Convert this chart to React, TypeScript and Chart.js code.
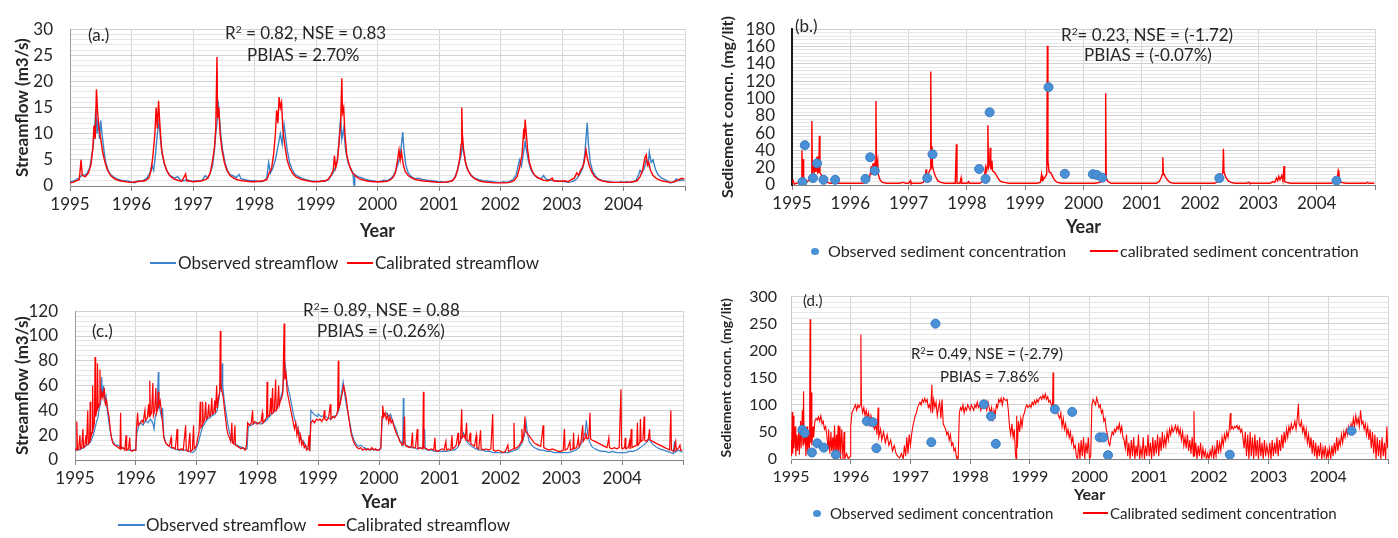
import React, { useEffect, useRef } from "react";
import { Chart, registerables } from "chart.js";
Chart.register(...registerables);

const FONT = "Lato, 'Noto Sans', sans-serif";
const TXT = "#262626";
const BLUE = "#3b82c8";
const DOT = "#4a90d6";
const RED = "#ff0000";

type Pt = [number, number];

// ---------- Panel (a) streamflow (calibration) ----------
const aObserved: Pt[] = [
  [1995.00,0.8],[1995.05,0.9],[1995.10,1.2],[1995.15,1.5],[1995.20,2.2],[1995.24,2.0],[1995.28,2.5],[1995.32,3.5],[1995.35,5.5],[1995.38,8],[1995.40,11],[1995.42,14.7],[1995.44,10],[1995.46,13],[1995.48,9],[1995.50,12.5],[1995.52,10],[1995.55,7],[1995.58,4.5],[1995.62,3],[1995.66,2.2],[1995.70,1.8],[1995.75,1.4],[1995.80,1.2],[1995.85,1.0],[1995.90,1.0],[1995.95,0.9],
  [1996.00,0.8],[1996.05,0.6],[1996.10,1.0],[1996.15,0.9],[1996.20,1.1],[1996.25,1.5],[1996.30,2.5],[1996.33,4],[1996.36,3],[1996.39,6],[1996.42,10],[1996.45,12.5],[1996.47,9],[1996.50,6],[1996.54,4],[1996.58,2.8],[1996.63,2],[1996.70,1.5],[1996.75,1.8],[1996.80,1.1],[1996.85,1.0],[1996.90,1.2],[1996.95,1.0],
  [1997.00,0.9],[1997.05,1.0],[1997.10,0.9],[1997.15,1.1],[1997.20,2.0],[1997.24,1.5],[1997.28,2.5],[1997.32,4],[1997.35,7],[1997.37,10],[1997.39,12],[1997.41,16.3],[1997.43,13],[1997.45,10],[1997.48,7],[1997.52,4.5],[1997.56,3],[1997.60,2.2],[1997.65,2.0],[1997.70,1.6],[1997.75,2.2],[1997.78,1.4],[1997.82,1.3],[1997.88,1.1],[1997.95,1.0],
  [1998.00,1.0],[1998.05,0.9],[1998.10,0.8],[1998.15,1.0],[1998.20,1.5],[1998.23,4.5],[1998.26,2.5],[1998.30,3.5],[1998.34,5],[1998.38,7.5],[1998.42,10],[1998.45,8],[1998.48,11.8],[1998.50,10],[1998.53,7],[1998.57,4.5],[1998.61,3.2],[1998.66,2.2],[1998.72,1.8],[1998.78,1.4],[1998.84,1.2],[1998.90,1.0],[1998.95,0.9],
  [1999.00,0.9],[1999.05,0.8],[1999.10,1.0],[1999.15,0.9],[1999.20,1.2],[1999.25,2.0],[1999.30,3],[1999.34,4.5],[1999.37,8],[1999.40,13],[1999.42,9],[1999.45,11],[1999.48,7],[1999.52,4.5],[1999.56,3.5],[1999.60,2.5],[1999.62,0],[1999.63,2.2],[1999.68,1.8],[1999.74,1.6],[1999.80,1.3],[1999.86,1.1],[1999.92,1.0],[1999.97,0.9],
  [2000.00,0.8],[2000.05,0.9],[2000.10,1.1],[2000.15,1.0],[2000.20,1.3],[2000.25,1.8],[2000.30,3],[2000.34,4.5],[2000.37,6],[2000.39,8],[2000.41,10.3],[2000.43,7],[2000.46,4],[2000.50,2.5],[2000.55,1.8],[2000.60,1.4],[2000.66,1.5],[2000.72,1.3],[2000.80,1.1],[2000.88,1.0],[2000.95,0.9],
  [2001.00,0.8],[2001.05,0.8],[2001.10,0.7],[2001.15,0.8],[2001.20,1.0],[2001.25,1.5],[2001.30,3],[2001.33,4.5],[2001.36,6],[2001.38,7.7],[2001.41,6],[2001.44,4],[2001.48,2.8],[2001.53,2],[2001.58,1.5],[2001.65,1.2],[2001.72,1.0],[2001.80,0.9],[2001.88,0.8],[2001.95,0.7],
  [2002.00,0.7],[2002.05,0.8],[2002.10,0.7],[2002.15,0.9],[2002.20,1.2],[2002.25,2],[2002.28,3.5],[2002.31,5],[2002.34,3.8],[2002.37,6],[2002.40,8.5],[2002.42,7],[2002.45,5],[2002.49,3.2],[2002.54,2.2],[2002.60,1.6],[2002.66,1.4],[2002.70,2.0],[2002.74,1.3],[2002.82,1.1],[2002.90,1.0],[2002.96,0.9],
  [2003.00,0.9],[2003.05,0.8],[2003.10,0.7],[2003.15,0.8],[2003.20,1.0],[2003.25,1.5],[2003.30,2.5],[2003.34,3.5],[2003.37,6],[2003.39,9],[2003.41,12.1],[2003.43,8],[2003.46,4.5],[2003.50,2.8],[2003.55,1.8],[2003.60,1.3],[2003.66,1.0],[2003.72,0.9],[2003.78,0.8],[2003.85,0.7],[2003.92,0.7],[2003.97,0.8],
  [2004.00,0.7],[2004.05,0.8],[2004.10,0.7],[2004.15,0.8],[2004.20,1.0],[2004.24,2.0],[2004.27,3],[2004.30,2.5],[2004.34,3.5],[2004.37,5],[2004.40,4],[2004.42,6.5],[2004.45,4.5],[2004.48,5],[2004.52,3.2],[2004.56,2.2],[2004.62,1.5],[2004.70,1.1],[2004.76,0.6],[2004.82,0.8],[2004.86,1.4],[2004.90,1.0],[2004.95,1.2],[2004.99,1.0],
];
const aCalibrated: Pt[] = [
  [1995.00,0.6],[1995.05,0.7],[1995.10,1.0],[1995.15,1.2],[1995.18,5.0],[1995.20,2.0],[1995.25,1.8],[1995.30,2.5],[1995.34,4],[1995.37,7],[1995.39,11.5],[1995.41,9],[1995.43,18.5],[1995.45,14],[1995.47,11],[1995.50,9],[1995.53,6.5],[1995.57,4.5],[1995.61,3],[1995.66,2],[1995.72,1.4],[1995.78,1.1],[1995.85,0.9],[1995.92,0.8],[1995.97,0.7],
  [1996.00,0.7],[1996.08,0.8],[1996.15,0.9],[1996.22,1.0],[1996.28,1.5],[1996.32,3],[1996.35,6],[1996.38,10],[1996.40,15],[1996.42,11],[1996.44,16.3],[1996.46,12],[1996.49,7],[1996.53,4.5],[1996.57,3],[1996.62,2],[1996.68,1.4],[1996.75,1.1],[1996.82,0.9],[1996.88,2.3],[1996.90,1.0],[1996.96,0.9],
  [1997.00,0.8],[1997.08,0.9],[1997.15,1.0],[1997.20,1.2],[1997.24,1.5],[1997.28,2.5],[1997.32,5],[1997.35,7.5],[1997.37,11],[1997.39,24.7],[1997.40,13],[1997.42,15],[1997.44,10],[1997.47,7],[1997.51,4.5],[1997.55,3],[1997.60,2],[1997.66,1.5],[1997.72,1.2],[1997.80,1.0],[1997.88,0.9],[1997.95,0.8],
  [1998.00,0.8],[1998.08,0.9],[1998.15,1.0],[1998.20,1.2],[1998.24,2.5],[1998.28,3.5],[1998.31,6],[1998.34,10],[1998.36,14.5],[1998.38,12],[1998.40,17],[1998.42,15],[1998.44,16],[1998.46,11],[1998.49,8],[1998.53,5],[1998.57,3.5],[1998.62,2.4],[1998.68,1.7],[1998.75,1.3],[1998.82,1.1],[1998.90,0.9],[1998.96,0.8],
  [1999.00,0.8],[1999.08,0.9],[1999.15,1.0],[1999.20,1.3],[1999.24,2],[1999.28,3],[1999.30,5.8],[1999.32,3.5],[1999.35,5],[1999.38,9],[1999.40,12],[1999.42,20.6],[1999.43,14],[1999.45,15],[1999.47,10],[1999.50,6],[1999.54,4],[1999.58,2.8],[1999.63,2],[1999.70,1.4],[1999.78,1.1],[1999.86,0.9],[1999.94,0.8],
  [2000.00,0.8],[2000.08,0.8],[2000.15,0.9],[2000.20,1.1],[2000.25,1.6],[2000.29,2.5],[2000.32,4.5],[2000.35,6.9],[2000.37,5],[2000.39,6.5],[2000.42,4],[2000.45,2.8],[2000.50,2],[2000.56,1.5],[2000.63,1.2],[2000.72,1.0],[2000.80,0.9],[2000.90,0.8],[2000.97,0.7],
  [2001.00,0.7],[2001.08,0.7],[2001.15,0.8],[2001.22,1.0],[2001.27,1.8],[2001.31,3.5],[2001.34,5.5],[2001.36,8],[2001.37,15],[2001.38,10],[2001.40,7],[2001.43,4.5],[2001.47,3],[2001.52,2],[2001.58,1.4],[2001.65,1.0],[2001.72,0.8],[2001.80,0.7],[2001.90,0.6],[2001.97,0.6],
  [2002.00,0.6],[2002.08,0.6],[2002.15,0.7],[2002.22,1.0],[2002.27,1.8],[2002.31,3.5],[2002.35,6],[2002.38,11],[2002.39,9],[2002.40,12.7],[2002.42,10],[2002.44,7],[2002.47,4.5],[2002.51,3],[2002.56,2],[2002.62,1.5],[2002.70,1.1],[2002.78,1.0],[2002.84,1.5],[2002.86,1.0],[2002.93,0.9],
  [2003.00,0.9],[2003.05,1.0],[2003.10,0.8],[2003.15,1.2],[2003.20,1.5],[2003.24,2.5],[2003.27,2],[2003.30,3],[2003.33,3.5],[2003.36,4.5],[2003.39,6.9],[2003.41,5.5],[2003.44,4],[2003.48,2.8],[2003.53,1.8],[2003.58,1.3],[2003.65,1.0],[2003.72,0.8],[2003.80,0.7],[2003.90,0.7],[2003.97,0.7],
  [2004.00,0.7],[2004.08,0.7],[2004.15,0.8],[2004.22,1.0],[2004.27,1.8],[2004.31,3],[2004.35,5.5],[2004.37,6.0],[2004.39,4],[2004.41,4.5],[2004.44,3],[2004.48,2],[2004.54,1.4],[2004.62,1.0],[2004.70,0.8],[2004.78,0.7],[2004.85,0.9],[2004.90,1.2],[2004.95,1.5],[2004.99,1.3],
];

// ---------- Panel (b) sediment (calibration) ----------
const bObserved: Pt[] = [
  [1995.18,3.5],[1995.22,46],[1995.36,8],[1995.43,25],[1995.54,6],[1995.74,6],[1996.26,7],[1996.34,32],[1996.42,16.5],
  [1997.32,8],[1997.41,35.5],[1998.21,18.5],[1998.32,7],[1998.39,84],[1999.40,113],[1999.68,13],
  [2000.16,12.5],[2000.23,11.5],[2000.32,8.5],[2002.33,8],[2004.34,5],
];
const bCalibrated: Pt[] = [
  [1995.00,2],[1995.02,5],[1995.04,1],[1995.08,2],[1995.12,3],[1995.16,4],[1995.17,40],[1995.18,8],[1995.19,30],[1995.20,4],[1995.24,3],[1995.28,5],[1995.31,8],[1995.33,12],[1995.34,74],[1995.35,15],[1995.37,20],[1995.38,14],[1995.40,25],[1995.41,15],[1995.43,33],[1995.44,14],[1995.46,15],[1995.47,57],[1995.48,14],[1995.50,12],[1995.53,8],[1995.56,5],[1995.60,3],[1995.66,2],[1995.75,2],[1995.85,2],[1995.95,2],
  [1996.00,2],[1996.10,2],[1996.20,2],[1996.28,3],[1996.32,6],[1996.35,15],[1996.36,22],[1996.37,12],[1996.39,25],[1996.40,15],[1996.42,24],[1996.43,16],[1996.44,97],[1996.45,20],[1996.47,28],[1996.48,12],[1996.51,6],[1996.55,3],[1996.62,2],[1996.75,2],[1996.85,2],[1996.90,3],[1996.95,2],
  [1997.00,2],[1997.03,5],[1997.04,2],[1997.10,2],[1997.20,2],[1997.25,3],[1997.28,6],[1997.30,18],[1997.31,10],[1997.33,12],[1997.35,15],[1997.37,18],[1997.38,131],[1997.39,20],[1997.40,45],[1997.41,22],[1997.43,16],[1997.46,10],[1997.50,5],[1997.55,3],[1997.62,2],[1997.72,2],[1997.80,2],[1997.82,47],[1997.83,2],[1997.88,2],[1997.90,8],[1997.91,2],[1997.96,2],
  [1998.00,2],[1998.03,4],[1998.04,2],[1998.12,2],[1998.22,2],[1998.27,4],[1998.30,10],[1998.32,20],[1998.33,15],[1998.35,22],[1998.36,69],[1998.37,20],[1998.39,25],[1998.40,43],[1998.41,18],[1998.43,28],[1998.44,16],[1998.47,15],[1998.50,12],[1998.54,7],[1998.58,4],[1998.64,3],[1998.72,2],[1998.85,2],[1998.95,2],
  [1999.00,2],[1999.10,2],[1999.20,2],[1999.26,3],[1999.28,12],[1999.29,5],[1999.30,11],[1999.31,6],[1999.33,8],[1999.35,10],[1999.37,13],[1999.38,161],[1999.39,28],[1999.41,15],[1999.44,14],[1999.47,10],[1999.50,6],[1999.55,3],[1999.62,2],[1999.75,2],[1999.90,2],
  [2000.00,2],[2000.10,2],[2000.20,2],[2000.28,3],[2000.32,5],[2000.35,8],[2000.37,6],[2000.38,106],[2000.39,8],[2000.42,4],[2000.47,2],[2000.60,2],[2000.80,2],[2000.95,2],
  [2001.00,2],[2001.15,2],[2001.25,2],[2001.30,4],[2001.33,8],[2001.35,12],[2001.36,32],[2001.37,14],[2001.40,10],[2001.44,6],[2001.48,3],[2001.55,2],[2001.75,2],[2001.95,2],
  [2002.00,2],[2002.15,2],[2002.25,2],[2002.30,4],[2002.34,8],[2002.37,12],[2002.39,14],[2002.40,42],[2002.41,15],[2002.44,9],[2002.48,5],[2002.53,3],[2002.60,2],[2002.80,2],[2002.84,3],[2002.85,2],
  [2003.00,2],[2003.10,2],[2003.20,2],[2003.25,4],[2003.28,3],[2003.31,8],[2003.33,5],[2003.35,10],[2003.37,6],[2003.40,11],[2003.42,5],[2003.44,22],[2003.45,4],[2003.48,3],[2003.55,2],[2003.75,2],[2003.95,2],
  [2004.00,2],[2004.15,2],[2004.25,2],[2004.30,4],[2004.33,8],[2004.35,6],[2004.37,17],[2004.38,15],[2004.39,6],[2004.42,3],[2004.50,2],[2004.70,2],[2004.85,2],[2004.87,3],[2004.90,2],[2004.99,2],
];

// ---------- Panel (c) streamflow (validation) ----------
const cObserved: Pt[] = [
  [1995.00,8],[1995.05,8],[1995.10,9],[1995.15,10],[1995.20,12],[1995.25,14],[1995.30,20],[1995.35,30],[1995.38,35],[1995.40,42],[1995.42,45],[1995.44,67],[1995.45,50],[1995.47,60],[1995.49,48],[1995.51,52],[1995.53,40],[1995.56,30],[1995.59,20],[1995.62,15],[1995.66,12],[1995.70,12],[1995.74,11],[1995.78,10],[1995.82,9],[1995.88,8],[1995.94,8],[1995.99,8],
  [1996.00,10],[1996.02,22],[1996.05,28],[1996.08,30],[1996.12,28],[1996.16,32],[1996.20,30],[1996.24,33],[1996.28,30],[1996.30,25],[1996.32,35],[1996.35,40],[1996.37,71],[1996.38,45],[1996.40,40],[1996.42,35],[1996.44,42],[1996.46,20],[1996.49,14],[1996.53,12],[1996.58,10],[1996.64,9],[1996.70,8],[1996.76,8],[1996.82,8],[1996.88,7],[1996.94,6],[1996.98,8],
  [1997.00,10],[1997.03,14],[1997.06,20],[1997.10,27],[1997.14,30],[1997.18,33],[1997.22,34],[1997.26,36],[1997.30,37],[1997.34,40],[1997.37,50],[1997.39,62],[1997.41,55],[1997.42,78],[1997.43,60],[1997.45,50],[1997.48,40],[1997.51,30],[1997.54,22],[1997.58,16],[1997.62,13],[1997.66,12],[1997.70,11],[1997.75,10],[1997.80,9],[1997.83,9],[1997.85,27],[1997.90,28],[1997.95,30],[1997.99,29],
  [1998.00,30],[1998.05,29],[1998.10,30],[1998.15,32],[1998.20,35],[1998.25,38],[1998.30,40],[1998.35,45],[1998.38,50],[1998.41,55],[1998.43,65],[1998.45,80],[1998.47,70],[1998.49,62],[1998.52,55],[1998.55,48],[1998.58,40],[1998.61,33],[1998.64,28],[1998.67,25],[1998.70,20],[1998.73,16],[1998.76,15],[1998.79,12],[1998.82,10],[1998.84,9],[1998.86,8],[1998.88,40],[1998.91,38],[1998.95,36],[1998.99,35],
  [1999.00,37],[1999.05,35],[1999.10,36],[1999.15,34],[1999.20,33],[1999.25,35],[1999.30,36],[1999.34,40],[1999.37,50],[1999.40,60],[1999.41,63],[1999.43,55],[1999.46,45],[1999.49,38],[1999.52,30],[1999.55,22],[1999.58,17],[1999.62,13],[1999.66,11],[1999.70,12],[1999.75,10],[1999.80,9],[1999.85,8],[1999.90,9],[1999.95,8],[1999.99,8],
  [2000.00,8],[2000.03,9],[2000.05,30],[2000.07,38],[2000.10,36],[2000.13,38],[2000.16,35],[2000.19,37],[2000.22,32],[2000.25,28],[2000.28,25],[2000.31,20],[2000.34,16],[2000.37,14],[2000.39,12],[2000.40,50],[2000.41,15],[2000.44,12],[2000.48,11],[2000.53,10],[2000.58,10],[2000.63,9],[2000.68,10],[2000.72,9],[2000.75,25],[2000.76,9],[2000.80,8],[2000.86,8],[2000.92,7],[2000.97,7],
  [2001.00,7],[2001.06,7],[2001.12,7],[2001.18,8],[2001.24,8],[2001.29,10],[2001.33,14],[2001.37,20],[2001.39,22],[2001.42,18],[2001.46,14],[2001.50,12],[2001.55,10],[2001.60,9],[2001.65,8],[2001.70,8],[2001.76,7],[2001.82,7],[2001.88,6],[2001.94,6],[2001.99,6],
  [2002.00,6],[2002.06,6],[2002.12,6],[2002.18,7],[2002.24,8],[2002.29,9],[2002.33,12],[2002.37,16],[2002.40,22],[2002.42,30],[2002.44,22],[2002.47,15],[2002.51,12],[2002.55,10],[2002.60,9],[2002.65,8],[2002.70,8],[2002.76,7],[2002.82,7],[2002.88,6],[2002.94,6],[2002.99,6],
  [2003.00,6],[2003.06,6],[2003.12,6],[2003.18,7],[2003.24,8],[2003.29,10],[2003.33,14],[2003.36,18],[2003.39,22],[2003.41,32],[2003.43,22],[2003.46,15],[2003.50,11],[2003.55,9],[2003.60,8],[2003.66,7],[2003.72,7],[2003.78,6],[2003.84,7],[2003.90,6],[2003.96,6],
  [2004.00,6],[2004.06,6],[2004.12,7],[2004.18,7],[2004.24,8],[2004.30,10],[2004.35,12],[2004.40,14],[2004.43,16],[2004.45,17],[2004.48,14],[2004.52,12],[2004.57,10],[2004.62,9],[2004.68,8],[2004.74,7],[2004.80,6],[2004.84,5],[2004.86,15],[2004.87,6],[2004.92,8],[2004.96,7],[2004.99,6],
];
const cCalibrated: Pt[] = [
  [1995.00,8],[1995.02,9],[1995.03,31],[1995.04,8],[1995.06,9],[1995.08,20],[1995.09,9],[1995.11,10],[1995.13,25],[1995.14,10],[1995.16,11],[1995.18,20],[1995.19,12],[1995.21,40],[1995.22,13],[1995.24,15],[1995.25,47],[1995.26,18],[1995.28,22],[1995.29,60],[1995.30,25],[1995.32,30],[1995.33,83],[1995.34,35],[1995.36,40],[1995.37,78],[1995.38,42],[1995.40,45],[1995.41,73],[1995.42,48],[1995.44,55],[1995.46,50],[1995.48,58],[1995.50,45],[1995.52,48],[1995.54,40],[1995.56,35],[1995.58,25],[1995.60,18],[1995.62,14],[1995.65,12],[1995.68,11],[1995.71,10],[1995.74,9],[1995.75,38],[1995.76,9],[1995.79,10],[1995.82,8],[1995.84,20],[1995.85,8],[1995.88,9],[1995.90,18],[1995.91,8],[1995.94,7],[1995.97,8],
  [1996.00,8],[1996.01,25],[1996.03,38],[1996.04,28],[1996.07,30],[1996.10,32],[1996.12,30],[1996.15,40],[1996.16,32],[1996.19,34],[1996.21,45],[1996.22,35],[1996.23,64],[1996.24,36],[1996.26,38],[1996.28,62],[1996.29,36],[1996.31,40],[1996.33,58],[1996.34,38],[1996.36,42],[1996.37,55],[1996.38,44],[1996.40,48],[1996.42,40],[1996.44,30],[1996.46,18],[1996.49,14],[1996.52,12],[1996.55,11],[1996.58,18],[1996.59,10],[1996.62,10],[1996.65,9],[1996.68,25],[1996.69,9],[1996.72,8],[1996.75,9],[1996.78,8],[1996.82,28],[1996.83,8],[1996.86,7],[1996.89,22],[1996.90,7],[1996.93,8],[1996.95,28],[1996.96,9],[1996.98,10],
  [1997.00,12],[1997.02,18],[1997.04,22],[1997.06,47],[1997.07,26],[1997.09,28],[1997.10,47],[1997.11,30],[1997.13,32],[1997.15,47],[1997.16,33],[1997.18,34],[1997.20,45],[1997.21,35],[1997.23,36],[1997.25,50],[1997.26,37],[1997.28,38],[1997.30,48],[1997.31,38],[1997.33,60],[1997.34,42],[1997.36,50],[1997.38,55],[1997.39,104],[1997.40,60],[1997.42,55],[1997.44,50],[1997.46,40],[1997.48,32],[1997.50,24],[1997.52,20],[1997.54,18],[1997.56,15],[1997.58,30],[1997.59,14],[1997.61,13],[1997.63,28],[1997.64,12],[1997.67,11],[1997.70,10],[1997.73,9],[1997.76,10],[1997.78,9],[1997.80,8],[1997.82,12],[1997.84,30],[1997.87,28],[1997.90,30],[1997.92,40],[1997.93,29],[1997.96,31],[1997.99,30],
  [1998.00,29],[1998.03,30],[1998.06,31],[1998.08,38],[1998.09,30],[1998.12,32],[1998.15,34],[1998.16,63],[1998.17,35],[1998.20,36],[1998.22,50],[1998.23,37],[1998.25,58],[1998.26,38],[1998.28,40],[1998.30,65],[1998.31,40],[1998.33,42],[1998.35,60],[1998.36,44],[1998.38,48],[1998.40,50],[1998.42,55],[1998.43,87],[1998.44,110],[1998.45,65],[1998.47,70],[1998.49,55],[1998.51,50],[1998.53,45],[1998.55,40],[1998.57,35],[1998.59,30],[1998.61,25],[1998.63,30],[1998.65,20],[1998.67,25],[1998.69,15],[1998.71,20],[1998.73,12],[1998.75,15],[1998.77,10],[1998.79,12],[1998.81,8],[1998.83,9],[1998.85,20],[1998.86,7],[1998.88,30],[1998.91,32],[1998.94,30],[1998.97,33],
  [1999.00,32],[1999.03,33],[1999.06,31],[1999.09,34],[1999.10,40],[1999.11,33],[1999.14,32],[1999.17,34],[1999.20,45],[1999.21,33],[1999.24,35],[1999.27,34],[1999.30,36],[1999.32,40],[1999.33,80],[1999.34,42],[1999.36,45],[1999.38,50],[1999.40,55],[1999.42,60],[1999.44,55],[1999.46,50],[1999.48,42],[1999.50,35],[1999.52,28],[1999.54,22],[1999.56,18],[1999.58,15],[1999.61,12],[1999.64,10],[1999.67,9],[1999.70,10],[1999.73,8],[1999.76,9],[1999.79,8],[1999.82,9],[1999.85,8],[1999.88,10],[1999.91,8],[1999.94,9],[1999.97,8],
  [2000.00,8],[2000.03,10],[2000.05,35],[2000.06,44],[2000.08,35],[2000.10,38],[2000.12,33],[2000.14,36],[2000.16,30],[2000.18,35],[2000.20,30],[2000.22,32],[2000.24,28],[2000.26,25],[2000.28,22],[2000.30,20],[2000.32,18],[2000.34,15],[2000.36,14],[2000.38,12],[2000.40,13],[2000.42,35],[2000.43,12],[2000.46,11],[2000.50,10],[2000.53,11],[2000.55,22],[2000.56,10],[2000.60,10],[2000.63,25],[2000.64,9],[2000.68,10],[2000.72,9],[2000.73,55],[2000.74,10],[2000.78,9],[2000.82,8],[2000.86,9],[2000.90,8],[2000.92,18],[2000.93,8],[2000.96,7],
  [2001.00,8],[2001.04,9],[2001.07,8],[2001.10,15],[2001.11,8],[2001.14,9],[2001.18,8],[2001.20,20],[2001.21,9],[2001.24,10],[2001.27,12],[2001.30,22],[2001.31,12],[2001.34,15],[2001.36,41],[2001.37,18],[2001.40,20],[2001.42,17],[2001.44,30],[2001.45,16],[2001.48,15],[2001.50,22],[2001.51,13],[2001.54,12],[2001.57,11],[2001.60,20],[2001.61,10],[2001.64,9],[2001.67,24],[2001.68,9],[2001.72,8],[2001.76,9],[2001.80,8],[2001.84,9],[2001.87,37],[2001.88,8],[2001.92,7],[2001.96,8],
  [2002.00,7],[2002.04,6],[2002.08,7],[2002.12,12],[2002.13,7],[2002.17,8],[2002.21,9],[2002.22,30],[2002.23,9],[2002.27,10],[2002.31,12],[2002.34,15],[2002.35,25],[2002.36,16],[2002.38,20],[2002.40,35],[2002.41,24],[2002.43,22],[2002.46,20],[2002.49,18],[2002.52,16],[2002.55,14],[2002.58,13],[2002.62,12],[2002.66,11],[2002.70,28],[2002.71,10],[2002.75,9],[2002.80,8],[2002.85,9],[2002.90,8],[2002.95,7],
  [2003.00,7],[2003.03,8],[2003.05,25],[2003.06,8],[2003.10,9],[2003.14,15],[2003.15,8],[2003.19,9],[2003.20,22],[2003.21,9],[2003.25,10],[2003.28,18],[2003.29,11],[2003.32,14],[2003.35,28],[2003.36,15],[2003.39,18],[2003.40,22],[2003.42,17],[2003.45,18],[2003.47,38],[2003.48,17],[2003.51,16],[2003.55,15],[2003.59,14],[2003.63,13],[2003.67,12],[2003.71,11],[2003.75,10],[2003.78,18],[2003.79,10],[2003.83,9],[2003.87,10],[2003.91,9],[2003.95,10],[2003.98,57],[2003.99,10],
  [2004.00,9],[2004.04,10],[2004.05,18],[2004.06,9],[2004.10,10],[2004.12,15],[2004.13,9],[2004.15,25],[2004.16,10],[2004.20,11],[2004.24,12],[2004.25,30],[2004.26,12],[2004.29,14],[2004.30,33],[2004.31,15],[2004.34,16],[2004.36,35],[2004.37,16],[2004.40,15],[2004.43,17],[2004.45,25],[2004.46,16],[2004.50,15],[2004.54,14],[2004.58,13],[2004.62,12],[2004.66,11],[2004.70,10],[2004.74,9],[2004.78,8],[2004.80,40],[2004.81,8],[2004.85,7],[2004.88,15],[2004.89,8],[2004.93,10],[2004.95,12],[2004.96,8],[2004.99,8],
];

// ---------- Panel (d) sediment (validation) ----------
const dObserved: Pt[] = [
  [1995.19,54],[1995.23,48],[1995.35,12],[1995.44,29],[1995.55,21],[1995.75,8],[1996.27,70],[1996.37,68],[1996.43,20],
  [1997.35,31],[1997.42,250],[1998.23,101],[1998.35,79],[1998.43,28],[1999.42,92],[1999.71,87],
  [2000.17,40],[2000.23,40],[2000.31,7],[2002.35,8],[2004.39,52],
];
const dCalibrated: Pt[] = [
  [1995.00,35],[1995.01,5],[1995.02,87],[1995.03,10],[1995.04,80],[1995.05,20],[1995.07,60],[1995.08,5],[1995.10,45],[1995.11,15],[1995.13,50],[1995.14,8],[1995.16,70],[1995.17,20],[1995.19,90],[1995.20,25],[1995.21,125],[1995.22,30],[1995.24,40],[1995.25,5],[1995.27,60],[1995.28,10],[1995.30,45],[1995.31,20],[1995.32,258],[1995.33,30],[1995.34,123],[1995.35,25],[1995.37,60],[1995.38,40],[1995.40,70],[1995.42,75],[1995.44,72],[1995.46,78],[1995.48,70],[1995.50,80],[1995.52,65],[1995.54,70],[1995.56,55],[1995.58,60],[1995.60,45],[1995.62,20],[1995.63,55],[1995.65,10],[1995.67,50],[1995.68,15],[1995.70,40],[1995.71,5],[1995.73,62],[1995.74,10],[1995.76,45],[1995.77,0],[1995.79,62],[1995.80,5],[1995.82,60],[1995.83,0],[1995.85,55],[1995.87,0],[1995.89,50],[1995.90,0],[1995.93,10],[1995.96,0],[1995.99,5],
  [1996.00,60],[1996.02,85],[1996.04,90],[1996.06,95],[1996.08,100],[1996.10,90],[1996.12,100],[1996.14,95],[1996.16,100],[1996.17,230],[1996.18,100],[1996.20,85],[1996.22,95],[1996.24,80],[1996.26,90],[1996.28,75],[1996.30,85],[1996.32,65],[1996.34,80],[1996.36,70],[1996.38,60],[1996.40,55],[1996.42,65],[1996.44,45],[1996.46,95],[1996.47,40],[1996.50,55],[1996.52,35],[1996.55,50],[1996.58,30],[1996.61,45],[1996.64,25],[1996.67,35],[1996.70,15],[1996.73,25],[1996.76,10],[1996.79,5],[1996.82,2],[1996.85,10],[1996.88,0],[1996.90,25],[1996.92,5],[1996.94,40],[1996.96,10],[1996.98,45],
  [1997.00,25],[1997.02,45],[1997.04,60],[1997.06,70],[1997.08,80],[1997.10,85],[1997.12,95],[1997.14,100],[1997.16,105],[1997.18,100],[1997.20,110],[1997.22,105],[1997.24,112],[1997.26,105],[1997.28,110],[1997.30,95],[1997.32,100],[1997.34,90],[1997.36,137],[1997.37,85],[1997.39,110],[1997.41,95],[1997.43,105],[1997.45,80],[1997.47,95],[1997.49,105],[1997.51,75],[1997.53,110],[1997.55,65],[1997.57,60],[1997.59,55],[1997.61,45],[1997.63,50],[1997.65,35],[1997.67,45],[1997.69,25],[1997.71,30],[1997.73,15],[1997.75,20],[1997.77,5],[1997.78,0],[1997.80,0],[1997.82,85],[1997.84,95],[1997.86,90],[1997.88,100],[1997.90,85],[1997.92,95],[1997.94,90],[1997.96,100],[1997.98,95],
  [1998.00,90],[1998.02,100],[1998.04,95],[1998.06,90],[1998.08,100],[1998.10,95],[1998.12,105],[1998.14,95],[1998.16,100],[1998.18,90],[1998.20,100],[1998.22,105],[1998.24,95],[1998.26,100],[1998.28,90],[1998.30,105],[1998.32,95],[1998.34,85],[1998.36,95],[1998.38,70],[1998.40,90],[1998.42,80],[1998.44,100],[1998.46,95],[1998.48,110],[1998.50,105],[1998.52,112],[1998.54,100],[1998.56,113],[1998.58,110],[1998.60,108],[1998.62,110],[1998.64,90],[1998.66,60],[1998.68,45],[1998.70,65],[1998.72,40],[1998.74,55],[1998.76,10],[1998.77,0],[1998.78,80],[1998.79,20],[1998.81,70],[1998.83,50],[1998.85,75],[1998.87,60],[1998.89,80],[1998.91,85],[1998.93,95],[1998.95,100],[1998.97,95],
  [1999.00,100],[1999.02,95],[1999.04,105],[1999.06,100],[1999.08,108],[1999.10,102],[1999.12,110],[1999.14,105],[1999.16,112],[1999.18,115],[1999.20,110],[1999.22,118],[1999.24,112],[1999.26,120],[1999.28,110],[1999.30,115],[1999.32,105],[1999.34,108],[1999.36,100],[1999.38,95],[1999.39,160],[1999.40,90],[1999.42,95],[1999.44,85],[1999.46,90],[1999.48,80],[1999.50,75],[1999.52,85],[1999.54,60],[1999.56,75],[1999.58,55],[1999.60,65],[1999.62,45],[1999.64,55],[1999.66,40],[1999.68,50],[1999.70,30],[1999.72,40],[1999.74,20],[1999.76,25],[1999.78,5],[1999.80,0],[1999.82,30],[1999.84,0],[1999.86,35],[1999.88,5],[1999.90,40],[1999.92,0],[1999.94,30],[1999.96,10],[1999.98,40],
  [2000.00,0],[2000.02,5],[2000.04,100],[2000.06,110],[2000.08,105],[2000.10,100],[2000.12,113],[2000.14,105],[2000.16,95],[2000.18,100],[2000.20,85],[2000.22,90],[2000.24,70],[2000.26,75],[2000.28,55],[2000.30,45],[2000.32,30],[2000.34,25],[2000.36,40],[2000.38,50],[2000.40,45],[2000.42,55],[2000.44,50],[2000.46,60],[2000.48,55],[2000.50,65],[2000.52,50],[2000.54,60],[2000.56,40],[2000.58,35],[2000.60,20],[2000.62,45],[2000.64,5],[2000.66,30],[2000.68,0],[2000.70,35],[2000.72,5],[2000.74,40],[2000.76,0],[2000.78,25],[2000.80,5],[2000.82,45],[2000.84,0],[2000.86,20],[2000.88,5],[2000.90,40],[2000.92,0],[2000.94,25],[2000.96,5],[2000.98,45],
  [2001.00,5],[2001.02,30],[2001.04,0],[2001.06,40],[2001.08,5],[2001.10,35],[2001.12,10],[2001.14,45],[2001.16,5],[2001.18,40],[2001.20,15],[2001.22,50],[2001.24,20],[2001.26,40],[2001.28,25],[2001.30,50],[2001.32,35],[2001.34,55],[2001.36,45],[2001.38,60],[2001.40,50],[2001.42,55],[2001.44,62],[2001.46,50],[2001.48,60],[2001.50,45],[2001.52,55],[2001.54,35],[2001.56,50],[2001.58,25],[2001.60,40],[2001.62,20],[2001.64,45],[2001.66,15],[2001.68,35],[2001.70,10],[2001.72,40],[2001.74,5],[2001.75,88],[2001.76,5],[2001.78,30],[2001.80,0],[2001.82,25],[2001.84,5],[2001.86,30],[2001.88,0],[2001.90,20],[2001.92,5],[2001.94,15],[2001.96,0],[2001.98,10],
  [2002.00,0],[2002.02,15],[2002.04,5],[2002.06,25],[2002.08,0],[2002.10,20],[2002.12,5],[2002.14,35],[2002.16,10],[2002.18,30],[2002.20,15],[2002.22,40],[2002.24,25],[2002.26,45],[2002.28,35],[2002.30,50],[2002.32,40],[2002.34,55],[2002.36,85],[2002.37,55],[2002.39,60],[2002.41,55],[2002.43,60],[2002.45,58],[2002.47,62],[2002.49,55],[2002.51,60],[2002.53,50],[2002.55,55],[2002.57,40],[2002.59,20],[2002.61,50],[2002.63,5],[2002.65,45],[2002.67,0],[2002.69,50],[2002.71,5],[2002.73,40],[2002.75,0],[2002.77,45],[2002.79,5],[2002.81,35],[2002.83,0],[2002.85,40],[2002.87,5],[2002.89,30],[2002.91,0],[2002.93,35],[2002.95,5],[2002.97,25],
  [2003.00,5],[2003.02,30],[2003.04,0],[2003.06,35],[2003.08,5],[2003.10,30],[2003.12,10],[2003.14,40],[2003.16,5],[2003.18,35],[2003.20,15],[2003.22,45],[2003.24,20],[2003.26,50],[2003.28,30],[2003.30,55],[2003.32,40],[2003.34,60],[2003.36,50],[2003.38,65],[2003.40,55],[2003.42,60],[2003.44,70],[2003.46,55],[2003.48,75],[2003.50,102],[2003.51,65],[2003.53,60],[2003.55,70],[2003.57,50],[2003.59,60],[2003.61,40],[2003.63,55],[2003.65,30],[2003.67,45],[2003.69,20],[2003.71,40],[2003.73,10],[2003.75,35],[2003.77,5],[2003.79,30],[2003.81,0],[2003.83,25],[2003.85,5],[2003.87,30],[2003.89,0],[2003.91,20],[2003.93,5],[2003.95,25],[2003.97,0],[2003.99,15],
  [2004.00,5],[2004.02,20],[2004.04,0],[2004.06,25],[2004.08,5],[2004.10,30],[2004.12,10],[2004.14,40],[2004.16,15],[2004.18,35],[2004.20,25],[2004.22,45],[2004.24,30],[2004.26,50],[2004.28,40],[2004.30,55],[2004.32,45],[2004.34,60],[2004.36,50],[2004.38,65],[2004.40,55],[2004.42,75],[2004.44,60],[2004.46,80],[2004.48,65],[2004.50,75],[2004.52,60],[2004.54,90],[2004.56,65],[2004.58,70],[2004.60,55],[2004.62,65],[2004.64,45],[2004.66,60],[2004.68,35],[2004.70,55],[2004.72,20],[2004.74,50],[2004.76,10],[2004.78,45],[2004.80,0],[2004.82,40],[2004.84,5],[2004.86,35],[2004.88,0],[2004.90,40],[2004.92,5],[2004.94,30],[2004.96,0],[2004.98,60],[2004.995,20],
];

const toXY = (a: Pt[]) => a.map(([x, y]) => ({ x, y }));

interface PanelDef {
  left: number; top: number; width: number; height: number;
  yW: number; xH: number; padTop: number; padRight: number;
  yMax: number; yStep: number; yMajor: number;
  yTitle: string; yTitleSize: number; yTickSize: number; yPad: number;
  xTickSize: number; xTitleSize: number;
  yBorder: string; yBorderW: number; xBorder: string;
  datasets: any[];
}

function makeConfig(p: PanelDef): any {
  return {
    type: "line",
    data: { datasets: p.datasets },
    options: {
      responsive: false,
      animation: false,
      events: [],
      layout: { padding: { top: p.padTop, right: p.padRight, left: 0, bottom: 0 } },
      plugins: { legend: { display: false }, tooltip: { enabled: false } },
      elements: { line: { tension: 0 }, point: { radius: 0 } },
      scales: {
        x: {
          type: "linear",
          min: 1995,
          max: 2005,
          afterFit: (s: any) => { s.height = p.xH; },
          ticks: {
            stepSize: 1,
            autoSkip: false,
            maxRotation: 0,
            padding: 3,
            color: TXT,
            font: { family: FONT, size: p.xTickSize },
            callback: (v: any) => (Number(v) >= 2005 ? "" : String(v)),
          },
          grid: { color: "#d6d6d6", tickColor: "#7f7f7f", tickLength: 5, lineWidth: 1 },
          border: { display: true, color: p.xBorder, width: 1 },
          title: {
            display: true,
            text: "Year",
            color: TXT,
            font: { family: FONT, size: p.xTitleSize, weight: "bold" },
            padding: { top: 4, bottom: 4 },
          },
        },
        y: {
          type: "linear",
          min: 0,
          max: p.yMax,
          afterFit: (s: any) => { s.width = p.yW; },
          ticks: {
            stepSize: p.yStep,
            autoSkip: false,
            padding: p.yPad,
            color: TXT,
            font: { family: FONT, size: p.yTickSize },
            callback: (v: any) => (Math.round(Number(v)) % p.yMajor === 0 ? String(Math.round(Number(v))) : ""),
          },
          grid: {
            drawTicks: false,
            lineWidth: 1,
            color: (ctx: any) =>
              ctx.tick && Math.round(ctx.tick.value) % p.yMajor === 0 ? "#d0d0d0" : "#e6e6e6",
          },
          border: { display: true, color: p.yBorder, width: p.yBorderW },
          title: {
            display: true,
            text: p.yTitle,
            color: TXT,
            font: { family: FONT, size: p.yTitleSize, weight: "bold" },
            padding: { top: 4, bottom: 4 },
          },
        },
      },
    },
  };
}

const lineDs = (label: string, data: Pt[], color: string, width: number, order: number) => ({
  type: "line",
  label,
  data: toXY(data),
  borderColor: color,
  backgroundColor: color,
  borderWidth: width,
  pointRadius: 0,
  fill: false,
  order,
});
const dotDs = (label: string, data: Pt[], order: number) => ({
  type: "scatter",
  label,
  data: toXY(data),
  backgroundColor: DOT,
  borderColor: "#3b7cc0",
  borderWidth: 1,
  pointRadius: 4.5,
  showLine: false,
  order,
});

const panels: PanelDef[] = [
  {
    left: 8, top: 2, width: 689, height: 244, yW: 62, xH: 60, padTop: 12, padRight: 12,
    yMax: 30, yStep: 1, yMajor: 5, yTitle: "Streamflow (m3/s)", yTitleSize: 17, yTickSize: 17, yPad: 17,
    xTickSize: 17, xTitleSize: 18, yBorder: "#9a9a9a", yBorderW: 1, xBorder: "#7f7f7f",
    datasets: [lineDs("Calibrated streamflow", aCalibrated, RED, 1.4, 0), lineDs("Observed streamflow", aObserved, BLUE, 1.4, 1)],
  },
  {
    left: 714, top: 2, width: 673, height: 240, yW: 78, xH: 57, padTop: 12, padRight: 12,
    yMax: 180, yStep: 4, yMajor: 20, yTitle: "Sediement concn. (mg/lit)", yTitleSize: 16, yTickSize: 17, yPad: 17,
    xTickSize: 17, xTitleSize: 18, yBorder: "#1a1a1a", yBorderW: 2, xBorder: "#7f7f7f",
    datasets: [dotDs("Observed sediment concentration", bObserved, 0), lineDs("calibrated sediment concentration", bCalibrated, RED, 1.4, 1)],
  },
  {
    left: 8, top: 284, width: 687, height: 233, yW: 67, xH: 57, padTop: 12, padRight: 12,
    yMax: 120, yStep: 4, yMajor: 20, yTitle: "Streamflow (m3/s)", yTitleSize: 17, yTickSize: 17, yPad: 17,
    xTickSize: 17, xTitleSize: 18, yBorder: "#9a9a9a", yBorderW: 1, xBorder: "#7f7f7f",
    datasets: [lineDs("Calibrated streamflow", cCalibrated, RED, 1.2, 0), lineDs("Observed streamflow", cObserved, BLUE, 1.2, 1)],
  },
  {
    left: 714, top: 273, width: 684, height: 235, yW: 77, xH: 49, padTop: 12, padRight: 10,
    yMax: 300, yStep: 10, yMajor: 50, yTitle: "Sediement concn. (mg/lit)", yTitleSize: 14, yTickSize: 16, yPad: 14,
    xTickSize: 16, xTitleSize: 16, yBorder: "#c8c8c8", yBorderW: 1, xBorder: "#7f7f7f",
    datasets: [dotDs("Observed sediment concentration", dObserved, 0), lineDs("Calibrated sediment concentration", dCalibrated, RED, 1.1, 1)],
  },
];

function ChartPanel({ p }: { p: PanelDef }) {
  const ref = useRef<HTMLCanvasElement>(null);
  useEffect(() => {
    const chart = new Chart(ref.current as HTMLCanvasElement, makeConfig(p));
    return () => chart.destroy();
  }, []);
  return (
    <canvas
      ref={ref}
      width={p.width}
      height={p.height}
      style={{ position: "absolute", left: p.left, top: p.top, width: p.width, height: p.height }}
    />
  );
}

function Txt({ x, y, size, children }: { x: number; y: number; size: number; children: any }) {
  return (
    <div style={{ position: "absolute", left: x, top: y - 11, height: 22, lineHeight: "22px", fontSize: size, fontFamily: FONT, color: TXT, whiteSpace: "nowrap" }}>
      {children}
    </div>
  );
}

function LegLine({ x, y, w, color }: { x: number; y: number; w: number; color: string }) {
  return <div style={{ position: "absolute", left: x, top: y - 1, width: w, height: 2, background: color }} />;
}
function LegDot({ x, y }: { x: number; y: number }) {
  return <div style={{ position: "absolute", left: x - 4, top: y - 3.5, width: 8, height: 7, borderRadius: "50%", background: DOT }} />;
}

const sup = (s: string) => <sup style={{ fontSize: "0.6em", verticalAlign: "0.6em", lineHeight: 0 }}>{s}</sup>;

export default function App() {
  return (
    <div style={{ position: "absolute", left: 0, top: 0, width: 1398, height: 538, background: "#fff", overflow: "hidden" }}>
      {panels.map((p, i) => <ChartPanel key={i} p={p} />)}

      {/* panel a annotations */}
      <Txt x={88} y={35} size={17}>(a.)</Txt>
      <Txt x={225} y={33} size={17}>R{sup("2")} = 0.82, NSE = 0.83</Txt>
      <Txt x={247} y={55} size={17}>PBIAS = 2.70%</Txt>
      {/* panel b annotations */}
      <Txt x={795} y={26} size={17}>(b.)</Txt>
      <Txt x={1061} y={35} size={17}>R{sup("2")}= 0.23, NSE = (-1.72)</Txt>
      <Txt x={1084} y={55} size={17}>PBIAS = (-0.07%)</Txt>
      {/* panel c annotations */}
      <Txt x={92} y={331} size={17}>(c.)</Txt>
      <Txt x={303} y={310} size={17}>R{sup("2")}= 0.89, NSE = 0.88</Txt>
      <Txt x={317} y={331} size={17}>PBIAS = (-0.26%)</Txt>
      {/* panel d annotations */}
      <Txt x={803} y={300} size={15}>(d.)</Txt>
      <Txt x={911} y={353} size={15}>R{sup("2")}= 0.49, NSE = (-2.79)</Txt>
      <Txt x={940} y={376} size={15}>PBIAS = 7.86%</Txt>

      {/* legends */}
      <LegLine x={150} y={263} w={26} color={BLUE} />
      <Txt x={178} y={263} size={17}>Observed streamflow</Txt>
      <LegLine x={347} y={263} w={26} color={RED} />
      <Txt x={375} y={263} size={17}>Calibrated streamflow</Txt>

      <LegDot x={815} y={251} />
      <Txt x={828} y={251} size={16}>Observed sediment concentration</Txt>
      <LegLine x={1090} y={251} w={28} color={RED} />
      <Txt x={1120} y={251} size={16}>calibrated sediment concentration</Txt>

      <LegLine x={118} y={525} w={27} color={BLUE} />
      <Txt x={146} y={525} size={17}>Observed streamflow</Txt>
      <LegLine x={318} y={525} w={27} color={RED} />
      <Txt x={346} y={525} size={17}>Calibrated streamflow</Txt>

      <LegDot x={817} y={513} />
      <Txt x={830} y={513} size={15}>Observed sediment concentration</Txt>
      <LegLine x={1083} y={513} w={25} color={RED} />
      <Txt x={1110} y={513} size={15}>Calibrated sediment concentration</Txt>
    </div>
  );
}
